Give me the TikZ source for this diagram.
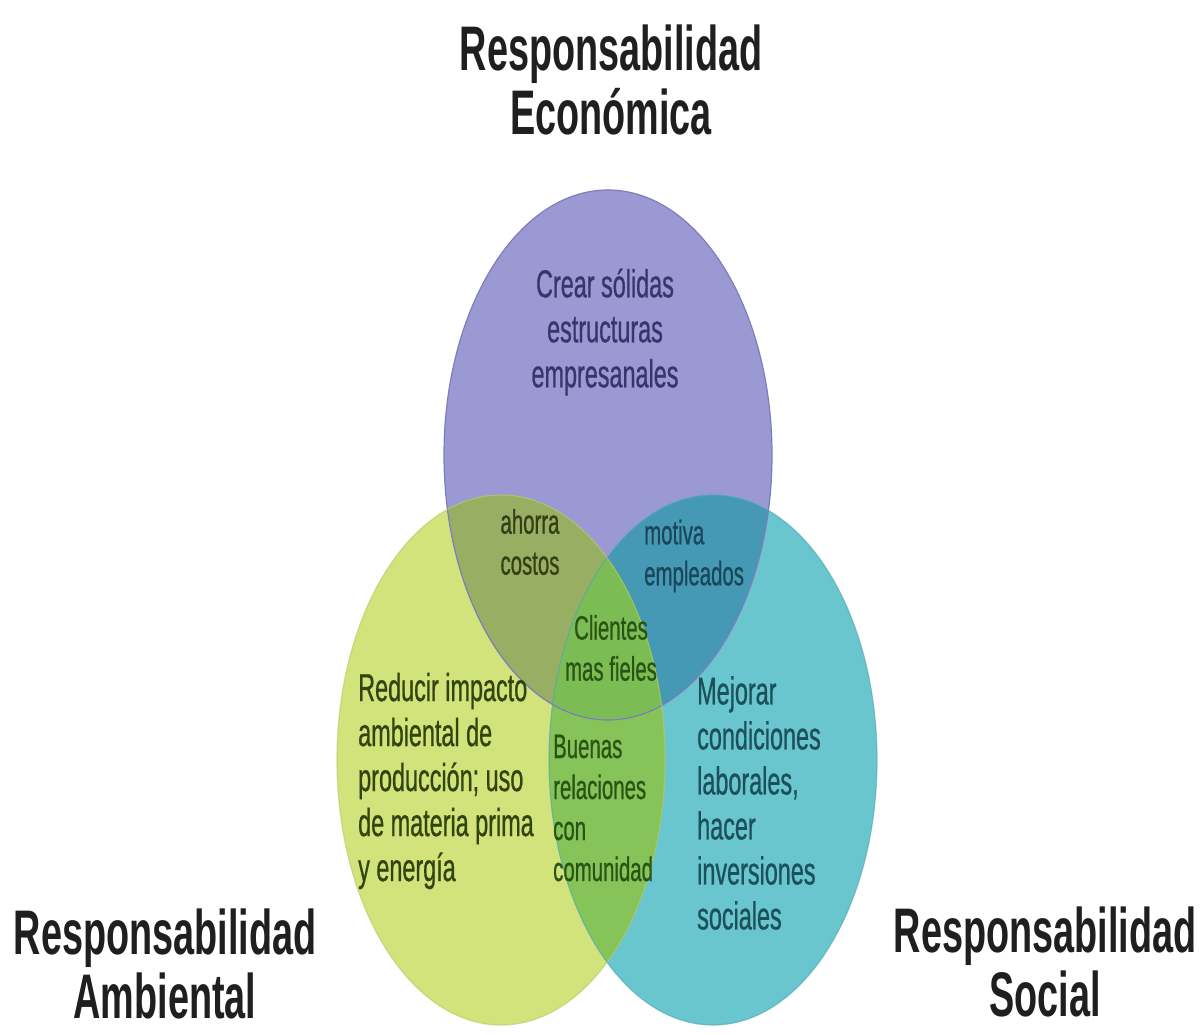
\documentclass[tikz,border=0pt]{standalone}
\usepackage{fontspec}
\newfontfamily\labelfont[FakeStretch=0.6, FakeBold=0.6]{Liberation Sans}
\newfontfamily\headfont[FakeStretch=0.6]{Liberation Sans}

% fills of the three sets and of their overlaps
\definecolor{ecoFill}{HTML}{9B99D4}
\definecolor{ecoLine}{HTML}{7E7CBC}
\definecolor{ambFill}{HTML}{D2E37C}
\definecolor{ambLine}{HTML}{B7CB62}
\definecolor{socFill}{HTML}{69C6CE}
\definecolor{socLine}{HTML}{4FA8B3}
\definecolor{ecoAmb}{HTML}{98AE62}
\definecolor{ecoSoc}{HTML}{4699B4}
\definecolor{ambSoc}{HTML}{86C45A}
\definecolor{allThree}{HTML}{7BBD54}
% text colours
\definecolor{ecoText}{HTML}{36366A}
\definecolor{ambText}{HTML}{34440E}
\definecolor{socText}{HTML}{1C505A}
\definecolor{oliveText}{HTML}{343F16}
\definecolor{blueText}{HTML}{1A465A}
\definecolor{greenText}{HTML}{2A5414}

\tikzset{
  ring/.style={line width=1.2pt},
  head/.style={font=\headfont\bfseries\fontsize{63}{64}\selectfont,
    align=center, text=black!88, inner sep=0pt},
  body/.style={font=\labelfont\fontsize{39}{45}\selectfont, inner sep=0pt},
  small/.style={font=\labelfont\fontsize{34}{41}\selectfont, inner sep=0pt},
  eco/.style={x radius=164pt, y radius=265pt},
}

\begin{document}
\begin{tikzpicture}[x=1pt, y=-1pt]
  \fill[white] (0,0) rectangle (1204,1035);
  \useasboundingbox (0,0) rectangle (1204,1035);

  \coordinate (cEco) at (608,455);
  \coordinate (cAmb) at (501,760);
  \coordinate (cSoc) at (713,760);

  % the three sets
  \fill[ecoFill] (cEco) ellipse [eco];
  \fill[ambFill] (cAmb) ellipse [eco];
  \fill[socFill] (cSoc) ellipse [eco];

  % pairwise overlaps
  \begin{scope}
    \clip (cEco) ellipse [eco];
    \fill[ecoAmb] (cAmb) ellipse [eco];
  \end{scope}
  \begin{scope}
    \clip (cEco) ellipse [eco];
    \fill[ecoSoc] (cSoc) ellipse [eco];
  \end{scope}
  \begin{scope}
    \clip (cAmb) ellipse [eco];
    \fill[ambSoc] (cSoc) ellipse [eco];
  \end{scope}
  % common core
  \begin{scope}
    \clip (cEco) ellipse [eco];
    \clip (cAmb) ellipse [eco];
    \fill[allThree] (cSoc) ellipse [eco];
  \end{scope}

  % outlines
  \draw[ring, ecoLine] (cEco) ellipse [eco];
  \draw[ring, ambLine, opacity=0.6] (cAmb) ellipse [eco];
  \draw[ring, socLine, opacity=0.6] (cSoc) ellipse [eco];

  % headings
  \node[head] (hEco) at (611,80) {Responsabilidad\\Económica};
  \node[head] (hAmb) at (165,964) {Responsabilidad\\Ambiental};
  \node[head] (hSoc) at (1045,962) {Responsabilidad\\Social};

  % contents of the sets
  \node[body, align=center, text=ecoText] (tEco) at (605,332)
    {Crear sólidas\\estructuras\\empresanales};
  \node[body, align=left, anchor=west, text=ambText] (tAmb) at (358,781)
    {Reducir impacto\\ambiental de\\producción; uso\\de materia prima\\y energía};
  \node[body, align=left, anchor=west, text=socText] (tSoc) at (697,803)
    {Mejorar\\condiciones\\laborales,\\hacer\\inversiones\\sociales};

  % contents of the overlaps
  \node[small, align=center, text=oliveText] (tEcoAmb) at (530,542)
    {ahorra\\costos};
  \node[small, align=left, anchor=west, text=blueText] (tEcoSoc) at (644,556)
    {motiva\\empleados};
  \node[small, align=center, text=greenText] (tAll) at (611,648)
    {Clientes\\mas fieles};
  \node[small, align=left, anchor=west, text=greenText] (tAmbSoc) at (553,808)
    {Buenas\\relaciones\\con\\comunidad};
\end{tikzpicture}
\end{document}
